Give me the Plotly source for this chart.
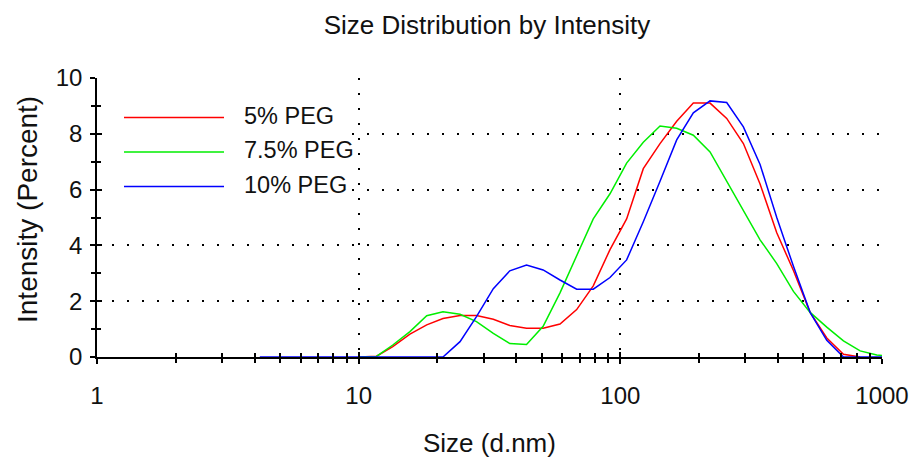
import plotly.graph_objects as go

# Size bins (d.nm), Zetasizer-style logarithmic bins
sizes = [3.61, 4.19, 4.85, 5.61, 6.50, 7.53, 8.72, 10.1, 11.7, 13.5, 15.7, 18.2, 21.0, 24.4,
         28.2, 32.7, 37.8, 43.8, 50.7, 58.8, 68.1, 78.8, 91.3, 105.7, 122.4, 141.8,
         164.2, 190.1, 220.2, 255.0, 295.3, 342.0, 396.1, 458.7, 531.2, 615.1,
         712.4, 825.0, 955.4, 1106.0]

peg5 = [None, None, None, None, None, None, None, 0.0, 0.03, 0.37, 0.82, 1.15, 1.38, 1.49,
        1.49, 1.35, 1.13, 1.03, 1.03, 1.18, 1.70, 2.55, 3.85, 4.95, 6.75, 7.65,
        8.45, 9.10, 9.10, 8.55, 7.65, 6.20, 4.45, 3.10, 1.60, 0.68,
        0.10, 0.0, None, None]

peg75 = [None, None, None, None, None, None, None, 0.0, 0.02, 0.43, 0.91, 1.48, 1.62, 1.53,
         1.27, 0.85, 0.48, 0.45, 1.10, 2.30, 3.60, 4.95, 5.85, 6.95, 7.70, 8.28,
         8.20, 7.95, 7.35, 6.30, 5.25, 4.20, 3.35, 2.35, 1.60, 1.07,
         0.58, 0.22, 0.07, 0.03]

peg10 = [None, 0.0, 0.0, 0.0, 0.0, 0.0, 0.0, 0.0, 0.0, 0.0, 0.0, 0.0, 0.0,
         0.55, 1.45, 2.45, 3.09, 3.30, 3.12, 2.76, 2.43, 2.43, 2.85, 3.48, 4.85, 6.30,
         7.78, 8.75, 9.18, 9.12, 8.25, 6.90, 5.00, 3.25, 1.60, 0.60,
         0.0, 0.0, 0.0, 0.0]

series_names = ["5% PEG", "7.5% PEG", "10% PEG"]
series_colors = ["#FF0000", "#00EE00", "#0000FF"]

x_tickvals = [1, 10, 100, 1000]
x_ticktext = ["1", "10", "100", "1000"]
y_tickvals = [0, 2, 4, 6, 8, 10]

FONT = "Liberation Sans, Arial, sans-serif"
TXT = "#111111"

fig = go.Figure()
axes_pairs = [("x", "y"), ("x", "y"), ("x2", "y2")]
for name, vals, col, (xa, ya) in zip(series_names, [peg5, peg75, peg10], series_colors, axes_pairs):
    xs = [s for s, v in zip(sizes, vals) if v is not None]
    ys = [v for v in vals if v is not None]
    fig.add_trace(go.Scatter(x=xs, y=ys, mode="lines", name=name, xaxis=xa, yaxis=ya,
                             line=dict(color=col, width=1.5), showlegend=False))

W, H = 911, 458
L, R, T, B = 97, 29, 78, 101

tick_common = dict(tickwidth=1.5, tickcolor="black")

fig.update_layout(
    width=W, height=H,
    margin=dict(l=L, r=R, t=T, b=B, autoexpand=False),
    paper_bgcolor="white", plot_bgcolor="white",
    font=dict(family=FONT, color=TXT),
    title=dict(text="Size Distribution by Intensity", x=487 / W, xanchor="center",
               y=(H - 25) / H, yanchor="middle", font=dict(size=26, family=FONT, color=TXT)),
    xaxis=dict(type="log", range=[0, 3], tickvals=x_tickvals, ticktext=x_ticktext,
               automargin=False,
               showline=True, linecolor="black", linewidth=1.5,
               ticks="outside", ticklen=5, **tick_common,
               tickfont=dict(size=24, family=FONT, color=TXT),
               ticklabelstandoff=11,
               showgrid=True, gridcolor="black", gridwidth=2, griddash="2px,13px",
               minor=dict(ticks="outside", ticklen=4, dtick="D1", showgrid=False, **tick_common),
               zeroline=False),
    yaxis=dict(range=[0, 10], tickvals=y_tickvals, automargin=False,
               showline=True, linecolor="black", linewidth=1.5,
               ticks="outside", ticklen=5, **tick_common,
               tickfont=dict(size=24, family=FONT, color=TXT),
               ticklabelstandoff=3,
               showgrid=True, gridcolor="black", gridwidth=2, griddash="2px,13px",
               minor=dict(ticks="outside", ticklen=4, dtick=1, showgrid=False, **tick_common),
               zeroline=False),
    xaxis2=dict(type="log", range=[0, 3], overlaying="x", anchor="y2", side="bottom",
                automargin=False,
                tickvals=x_tickvals, showticklabels=False, showgrid=False, zeroline=False,
                ticks="inside", ticklen=5, **tick_common,
                minor=dict(ticks="inside", ticklen=4, dtick="D1", showgrid=False, **tick_common)),
    yaxis2=dict(range=[0, 10], overlaying="y", anchor="x2", side="left",
                automargin=False,
                tickvals=y_tickvals, showticklabels=False, showgrid=False, zeroline=False,
                ticks="inside", ticklen=5, **tick_common,
                minor=dict(ticks="inside", ticklen=4, dtick=1, showgrid=False, **tick_common)),
)

pw, ph = (W - L - R), (357 - 78)

# axis titles
fig.add_annotation(text="Size (d.nm)", xref="paper", yref="paper",
                   x=(489 - L) / pw, y=(357 - 443) / ph,
                   showarrow=False, xanchor="center", yanchor="middle",
                   font=dict(size=26, family=FONT, color=TXT))
fig.add_annotation(text="Intensity (Percent)", xref="paper", yref="paper",
                   x=(27 - L) / pw, y=(357 - 210) / ph, textangle=-90,
                   showarrow=False, xanchor="center", yanchor="middle",
                   font=dict(size=28, family=FONT, color=TXT))

# custom legend with white background box (covers the grid like the original)
fig.add_shape(type="rect", xref="paper", yref="paper", layer="above",
              x0=(103 - L) / pw, x1=(352 - L) / pw,
              y0=(357 - 212) / ph, y1=(357 - 90) / ph,
              line=dict(width=0), fillcolor="white")
leg_y = [117.5, 152, 186.5]
for name, col, py in zip(series_names, series_colors, leg_y):
    yy = (357 - py) / ph
    fig.add_shape(type="line", xref="paper", yref="paper", layer="above",
                  x0=(124 - L) / pw, x1=(224 - L) / pw, y0=yy, y1=yy,
                  line=dict(color=col, width=1.5))
    fig.add_annotation(text=name, xref="paper", yref="paper",
                       x=(242 - L) / pw, y=(357 - (py - 2)) / ph, xanchor="left", yanchor="middle",
                       showarrow=False, font=dict(size=23.5, family=FONT, color=TXT))

fig.write_html("out.html")
